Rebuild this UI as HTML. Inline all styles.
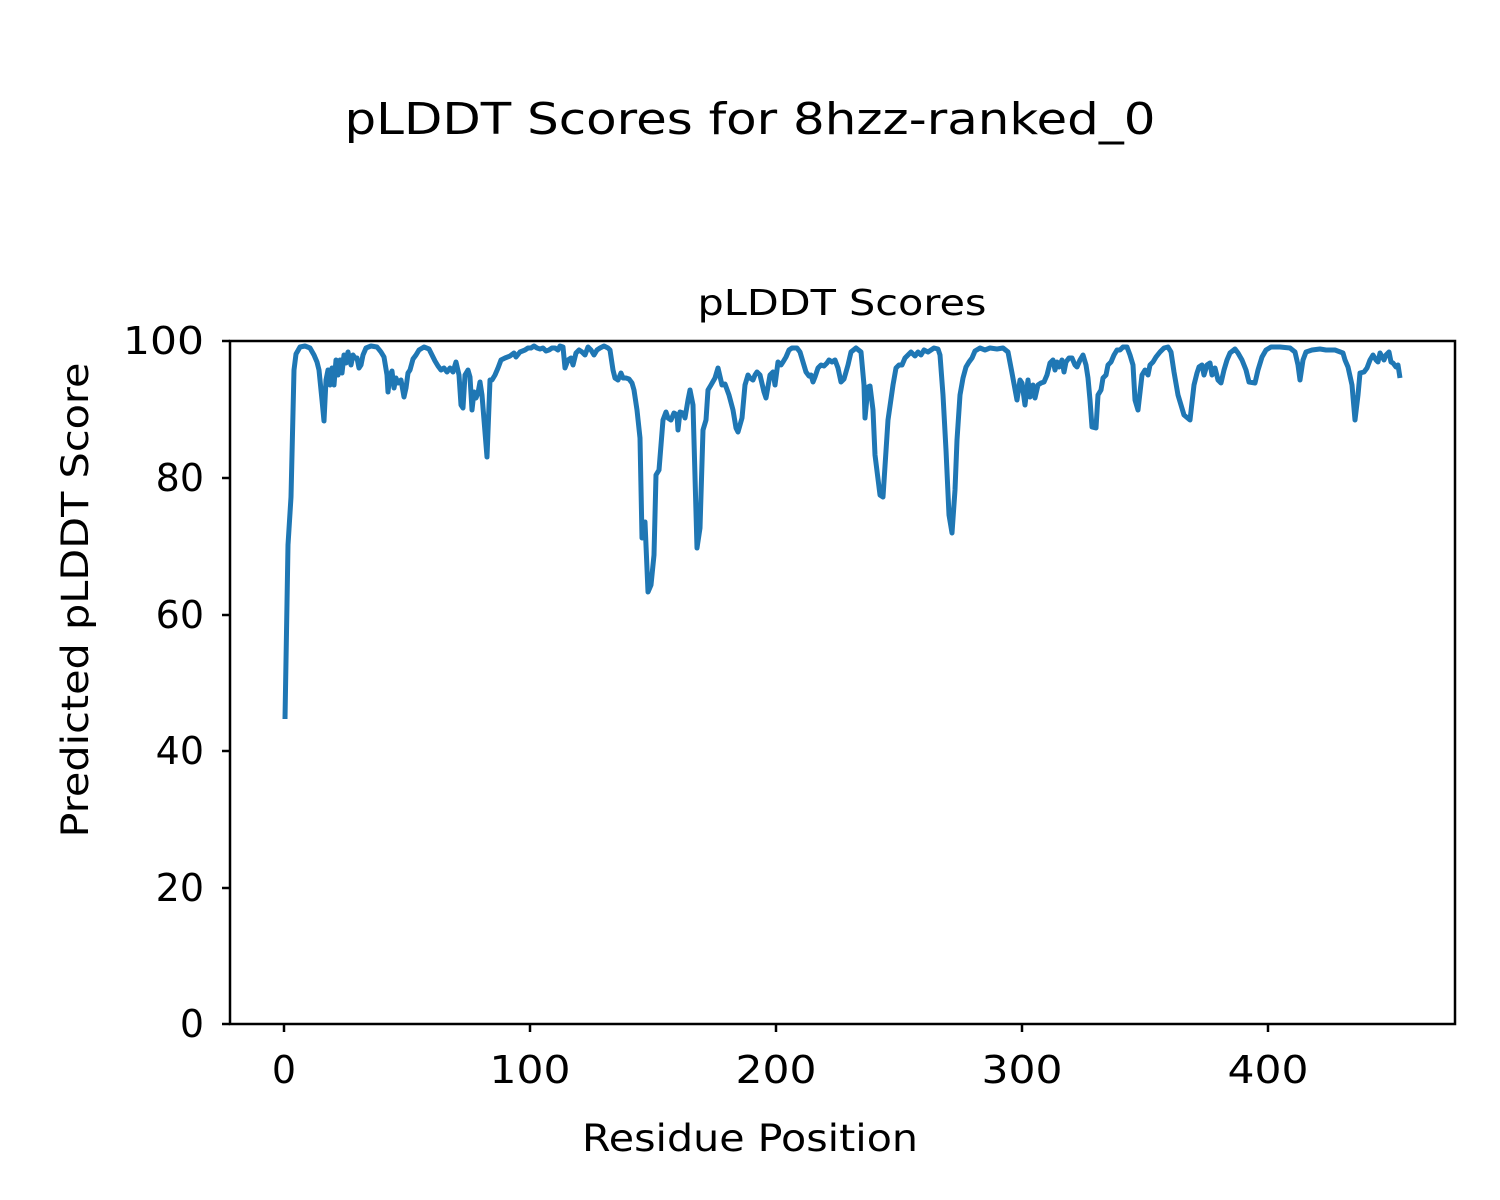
<!DOCTYPE html>
<html><head><meta charset="utf-8"><style>body{margin:0;background:#fff}svg{display:block}</style></head><body>
<svg width="1500" height="1200" xmlns="http://www.w3.org/2000/svg" font-family="DejaVu Sans, Liberation Sans, sans-serif" fill="#000">
<rect width="1500" height="1200" fill="#fff"/>
<text x="750" y="134" font-size="44" text-anchor="middle" textLength="811" lengthAdjust="spacingAndGlyphs">pLDDT Scores for 8hzz-ranked_0</text>
<text x="842" y="315" font-size="36" text-anchor="middle" textLength="289" lengthAdjust="spacingAndGlyphs">pLDDT Scores</text>
<text x="750" y="1151" font-size="37" text-anchor="middle" textLength="336" lengthAdjust="spacingAndGlyphs">Residue Position</text>
<text transform="translate(88,600) rotate(-90)" font-size="37" text-anchor="middle" textLength="475" lengthAdjust="spacingAndGlyphs">Predicted pLDDT Score</text>
<g stroke="#000" stroke-width="2.5">
<line x1="230" y1="1024" x2="222" y2="1024"/><line x1="230" y1="888" x2="222" y2="888"/><line x1="230" y1="751" x2="222" y2="751"/><line x1="230" y1="615" x2="222" y2="615"/><line x1="230" y1="478" x2="222" y2="478"/><line x1="230" y1="341" x2="222" y2="341"/>
<line x1="284" y1="1024" x2="284" y2="1032"/><line x1="530" y1="1024" x2="530" y2="1032"/><line x1="776" y1="1024" x2="776" y2="1032"/><line x1="1022" y1="1024" x2="1022" y2="1032"/><line x1="1268" y1="1024" x2="1268" y2="1032"/>
</g>
<g font-size="38" text-anchor="end">
<text x="204" y="1037">0</text><text x="204" y="901">20</text><text x="204" y="764">40</text><text x="204" y="628">60</text><text x="204" y="491">80</text><text x="204" y="354" textLength="81" lengthAdjust="spacingAndGlyphs">100</text>
</g>
<g font-size="38" text-anchor="middle">
<text x="284" y="1083">0</text><text x="530" y="1083" textLength="81" lengthAdjust="spacingAndGlyphs">100</text><text x="776" y="1083" textLength="81" lengthAdjust="spacingAndGlyphs">200</text><text x="1022" y="1083" textLength="81" lengthAdjust="spacingAndGlyphs">300</text><text x="1268" y="1083" textLength="81" lengthAdjust="spacingAndGlyphs">400</text>
</g>
<polyline fill="none" stroke="#1f77b4" stroke-width="5" stroke-linejoin="round" points="285,719 288,545 291,497 294,370 296,354 300,347 305,346 310,348 314,355 317,362 319,370 322,400 324,421 326,380 328,370 330,385 332,368 334,385 336,360 338,375 340,360 342,373 344,355 346,363 348,352 351,365 353,355 355,358 357,358 359,368 361,365 363,355 366,348 371,346 377,347 381,352 384,357 387,375 388,392 390,375 392,371 394,388 396,378 398,383 401,380 404,397 406,388 408,373 410,370 413,359 416,355 419,350 424,347 429,349 432,355 435,361 438,366 441,370 444,368 447,372 450,368 453,372 456,362 459,375 461,405 463,408 465,375 468,370 470,377 472,410 474,392 476,398 478,393 480,382 482,395 487,457 490,380 492,380 495,375 498,368 501,360 505,358 510,356 514,353 516,357 520,352 525,350 528,348 531,348 534,346 537,348 540,349 543,348 546,351 549,350 552,348 555,348 558,350 560,346 563,347 565,368 568,360 571,358 573,365 576,353 579,350 582,352 585,355 588,347 591,350 594,355 597,350 600,348 604,346 608,348 610,350 613,370 615,378 618,380 621,373 623,378 626,378 629,379 632,383 634,390 637,410 640,438 642,538 645,522 648,592 651,585 654,555 656,475 659,470 663,420 666,412 668,418 671,420 674,413 677,415 678,430 680,412 683,413 685,418 688,400 690,390 693,405 697,548 700,528 703,430 706,420 708,390 711,385 715,378 718,368 722,385 725,384 729,395 733,410 736,428 738,432 742,418 745,385 748,375 750,378 753,380 755,375 757,372 760,375 764,392 766,398 770,375 773,372 775,385 778,362 781,365 783,362 786,357 789,350 792,348 797,348 800,352 803,362 806,372 809,376 811,375 813,382 815,377 818,368 821,365 824,366 827,363 829,360 832,362 835,360 838,368 841,382 844,379 848,365 851,352 856,348 861,352 864,385 865,418 868,387 870,386 873,410 875,455 880,495 883,497 888,420 893,385 896,368 899,365 902,365 905,358 908,355 911,352 915,356 918,352 921,355 924,350 928,352 931,350 934,348 938,349 940,355 943,395 946,450 949,515 952,533 955,490 957,440 960,395 963,378 966,367 969,362 972,358 975,351 980,348 985,350 990,348 997,349 1003,348 1008,352 1012,373 1017,400 1020,380 1022,383 1025,405 1028,380 1030,397 1033,385 1035,398 1038,385 1041,383 1044,382 1047,375 1050,363 1053,360 1055,370 1057,362 1059,367 1062,360 1064,372 1066,362 1069,358 1072,358 1075,365 1077,367 1080,360 1083,355 1086,365 1088,378 1090,400 1092,427 1096,428 1098,395 1101,390 1103,378 1106,375 1108,365 1111,362 1114,355 1117,350 1120,350 1123,347 1127,347 1130,355 1133,365 1135,400 1138,410 1142,375 1145,370 1148,375 1150,365 1153,362 1156,357 1160,352 1164,348 1168,347 1171,352 1174,372 1178,395 1184,415 1190,420 1194,385 1197,373 1199,367 1202,365 1204,375 1207,365 1210,363 1212,375 1215,368 1218,380 1221,383 1224,370 1227,360 1230,353 1235,349 1238,353 1242,360 1246,370 1249,382 1255,383 1258,370 1262,357 1266,350 1271,347 1280,347 1290,348 1295,352 1298,365 1300,380 1303,360 1306,352 1312,350 1320,349 1326,350 1335,350 1343,353 1345,360 1348,367 1352,385 1355,420 1358,395 1360,373 1364,372 1367,368 1370,360 1373,355 1376,360 1378,362 1380,353 1384,360 1386,355 1389,352 1391,362 1393,363 1396,367 1398,365 1400,378"/>
<rect x="230" y="341" width="1225" height="683" fill="none" stroke="#000" stroke-width="2.5"/>
</svg>
</body></html>
